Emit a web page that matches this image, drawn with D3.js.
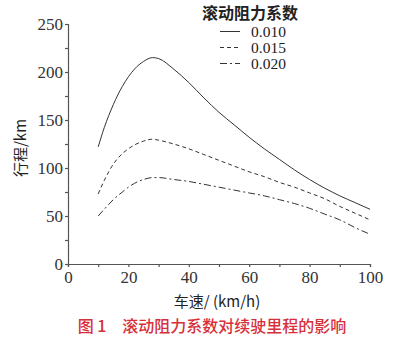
<!DOCTYPE html>
<html><head><meta charset="utf-8">
<script src="https://cdn.jsdelivr.net/npm/d3@7"></script>
<style>body{margin:0;background:#fff}svg{display:block}
.serif{font-family:"Liberation Serif","DejaVu Serif","Times New Roman",serif}
.cjk{font-family:"Noto Sans CJK SC","Noto Sans",sans-serif}</style>
</head><body><svg id="c" width="399" height="342"></svg>
<script>
const speeds = [10,12,15,18,20,22,25,28,30,35,40,45,50,55,60,65,70,75,80,85,90,95,100];
const r010 = [122,142,166,185,195,203,211,215,214,203,189,173,158,145,132,120,109,98,88,79,71,64,57];
const r015 = [73,87,104,115,120,124,128,130,129,125,120,114,108,102,96,91,85,80,74,68,60,53,46];
const r020 = [50,57,67,75,80,84,88,90,90,88,86,83,80,77,74,71,67,63,58,52,46,38,31];
const seriesNames = ["0.010","0.015","0.020"];
const xTicks = [0,20,40,60,80,100];
const yTicks = [0,50,100,150,200,250];
const legendTitle = "滚动阻力系数";
const xTitle = "车速/ (km/h)";
const yTitle = "行程/km";
const caption = "图 1　滚动阻力系数对续驶里程的影响";

const svg = d3.select("#c");
const x = d3.scaleLinear().domain([0,100]).range([68,370]);
const y = d3.scaleLinear().domain([0,250]).range([264,24]);
const axisCol = "#555";

const gx = svg.append("g").attr("transform","translate(0,264)")
  .call(d3.axisBottom(x).tickValues(d3.range(0,101,10)).tickSize(3).tickFormat(""));
const gy = svg.append("g").attr("transform","translate(68,0)")
  .call(d3.axisLeft(y).tickValues(d3.range(0,251,25)).tickSize(3).tickFormat(""));
[gx,gy].forEach(g=>{g.selectAll("path,line").attr("stroke",axisCol).attr("stroke-width",1.2);});

const gxl = svg.append("g").attr("transform","translate(0,264)")
  .call(d3.axisBottom(x).tickValues(xTicks).tickSize(0).tickPadding(7));
gxl.select(".domain").remove();
gxl.attr("font-family",null).attr("font-size",null);
gxl.selectAll("text").attr("class","serif").style("font-size","17px").attr("fill","#333");
const gyl = svg.append("g").attr("transform","translate(68,0)")
  .call(d3.axisLeft(y).tickValues(yTicks).tickSize(0).tickPadding(5));
gyl.select(".domain").remove();
gyl.attr("font-family",null).attr("font-size",null);
gyl.selectAll("text").attr("class","serif").style("font-size","17px").attr("fill","#333");

const dashes = [null,"4,3","7,3,2,3"];
const data = [r010,r015,r020];
const line = d3.line().x((d,i)=>x(speeds[i])).y(d=>y(d)).curve(d3.curveMonotoneX);
data.forEach((s,k)=>{
  svg.append("path").datum(s).attr("d",line).attr("fill","none")
    .attr("stroke","#333").attr("stroke-width",1)
    .attr("stroke-dasharray",dashes[k]);
});

svg.append("text").attr("x",250).attr("y",19).attr("text-anchor","middle").attr("class","cjk")
  .style("font-size","16px").attr("font-weight","bold").attr("fill","#222").text(legendTitle);
seriesNames.forEach((n,k)=>{
  const yy = 31.5 + k*16;
  svg.append("line").attr("x1",220).attr("x2",240).attr("y1",yy).attr("y2",yy)
    .attr("stroke","#333").attr("stroke-width",1).attr("stroke-dasharray",dashes[k]);
  svg.append("text").attr("x",251).attr("y",yy+5).attr("class","serif")
    .style("font-size","15.5px").attr("fill","#222").text(n);
});

svg.append("text").attr("transform","translate(26,148) rotate(-90)").attr("text-anchor","middle")
  .attr("class","cjk").style("font-size","15px").attr("fill","#222").text(yTitle);
svg.append("text").attr("x",217).attr("y",307).attr("text-anchor","middle")
  .attr("class","cjk").style("font-size","15px").attr("fill","#222").text(xTitle);
svg.append("text").attr("x",212).attr("y",332).attr("text-anchor","middle")
  .attr("class","cjk").style("font-size","16px").attr("font-weight","500").attr("fill","#d7303a").text(caption);
</script></body></html>
